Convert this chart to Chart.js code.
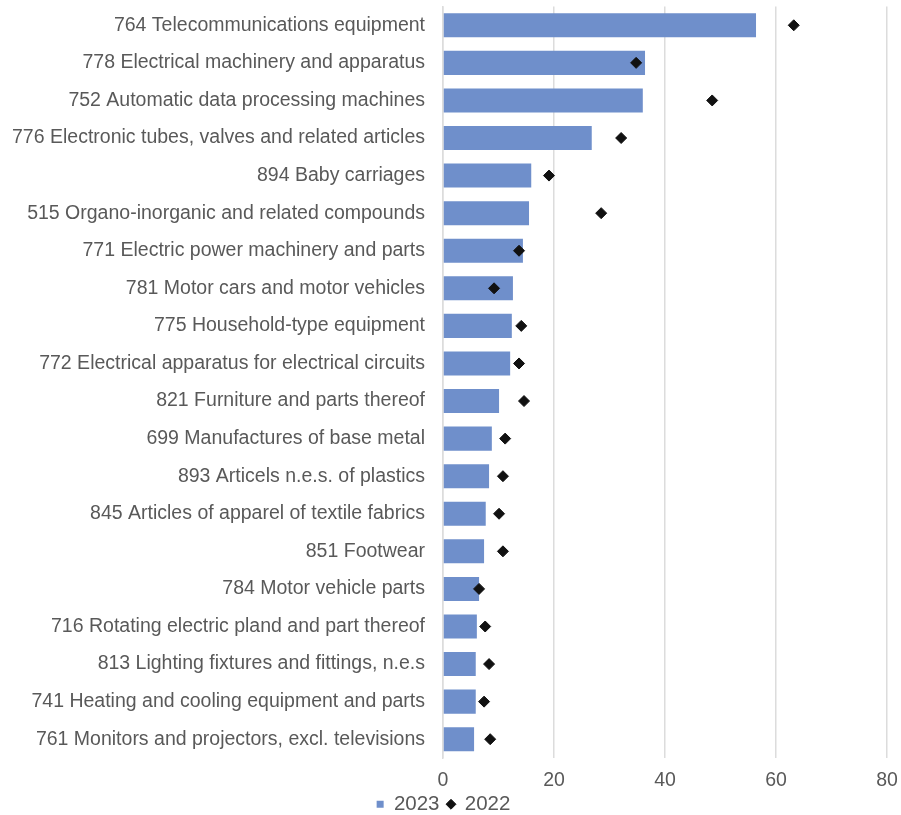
<!DOCTYPE html>
<html>
<head>
<meta charset="utf-8">
<script src="https://cdn.jsdelivr.net/npm/chart.js@4/dist/chart.umd.min.js"></script>
<style>
  html, body { margin: 0; padding: 0; background: #ffffff; }
  #wrap { width: 901px; height: 815px; }
</style>
</head>
<body>
<div id="wrap"><canvas id="chart"></canvas></div>
<script>
// product groups (SITC), top to bottom
const categories = [
    "764 Telecommunications equipment",
    "778 Electrical machinery and apparatus",
    "752 Automatic data processing machines",
    "776 Electronic tubes, valves and related articles",
    "894 Baby carriages",
    "515 Organo-inorganic and related compounds",
    "771 Electric power machinery and parts",
    "781 Motor cars and motor vehicles",
    "775 Household-type equipment",
    "772 Electrical apparatus for electrical circuits",
    "821 Furniture and parts thereof",
    "699 Manufactures of base metal",
    "893 Articels n.e.s. of plastics",
    "845 Articles of apparel of textile fabrics",
    "851 Footwear",
    "784 Motor vehicle parts",
    "716 Rotating electric pland and part thereof",
    "813 Lighting fixtures and fittings, n.e.s",
    "741 Heating and cooling equipment and parts",
    "761 Monitors and projectors, excl. televisions"
];

const values2023 = [56.4, 36.4, 36.0, 26.8, 15.9, 15.5, 14.4, 12.6, 12.4, 12.1,
                    10.1, 8.8, 8.3, 7.7, 7.4, 6.5, 6.1, 5.9, 5.9, 5.6];

const values2022 = [63.2, 34.8, 48.5, 32.1, 19.1, 28.5, 13.7, 9.2, 14.1, 13.7,
                    14.6, 11.2, 10.8, 10.1, 10.8, 6.5, 7.6, 8.3, 7.4, 8.5];

const xTicks = [0, 20, 40, 60, 80];

const textColor = '#595959';
const fontFamily = 'Liberation Sans, Arial, sans-serif';

const ctx = document.getElementById('chart').getContext('2d');
new Chart(ctx, {
    type: 'bar',
    data: {
        labels: categories,
        datasets: [
            {
                type: 'line',
                label: '2022',
                data: values2022,
                showLine: false,
                pointStyle: 'rectRot',
                pointRadius: 5.5,
                pointHoverRadius: 5.5,
                backgroundColor: '#111111',
                borderColor: '#111111',
                borderWidth: 1,
                order: 0
            },
            {
                label: '2023',
                data: values2023,
                backgroundColor: '#6f8fcb',
                borderWidth: 0,
                pointStyle: 'rect',
                barPercentage: 0.64,
                categoryPercentage: 1.0,
                order: 1
            }
        ]
    },
    options: {
        indexAxis: 'y',
        responsive: true,
        maintainAspectRatio: false,
        animation: false,
        layout: { padding: { top: 5, right: 14, bottom: -9.5, left: 0 } },
        plugins: {
            legend: {
                position: 'bottom',
                reverse: true,
                labels: {
                    usePointStyle: true,
                    boxWidth: 7,
                    boxHeight: 7,
                    padding: 8,
                    color: textColor,
                    font: { family: fontFamily, size: 20.5 }
                }
            },
            tooltip: { enabled: false }
        },
        scales: {
            x: {
                min: 0,
                max: 80,
                afterBuildTicks: function(scale) {
                    scale.ticks = xTicks.map(v => ({ value: v }));
                },
                afterFit: function(scale) {
                    scale.height = 28;
                    scale.paddingLeft = 0;
                    scale.paddingRight = 0;
                },
                grid: { color: '#dcdcdc', lineWidth: 1.5, drawTicks: false },
                border: { display: false },
                ticks: {
                    color: textColor,
                    padding: 11,
                    font: { family: fontFamily, size: 19.5 }
                }
            },
            y: {
                afterFit: function(scale) {
                    scale.width = 443;
                    scale.paddingTop = 0;
                    scale.paddingBottom = 0;
                },
                grid: { display: false, drawTicks: false },
                border: { display: true, color: '#dcdcdc', width: 1.5 },
                ticks: {
                    color: textColor,
                    padding: 18,
                    font: { family: fontFamily, size: 19.5 }
                }
            }
        }
    }
});
</script>
</body>
</html>
